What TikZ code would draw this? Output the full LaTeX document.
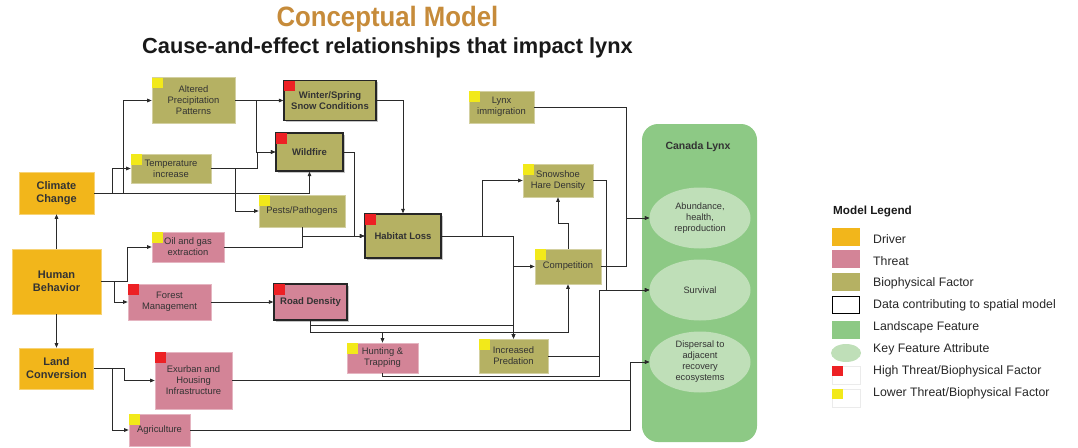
\documentclass[tikz,border=0pt]{standalone}
\usepackage{graphicx}
\usepackage{fontspec}
\setmainfont{Liberation Sans}
\usetikzlibrary{arrows.meta,shadows,shapes.geometric}
\definecolor{driver}{HTML}{F2B61B}
\definecolor{threat}{HTML}{D38497}
\definecolor{bio}{HTML}{B5B163}
\definecolor{land}{HTML}{8DC985}
\definecolor{keyattr}{HTML}{BFDFB8}
\definecolor{hiflag}{HTML}{ED2024}
\definecolor{loflag}{HTML}{F2E91A}
\definecolor{titlegold}{HTML}{C68B3A}
\definecolor{txt}{HTML}{333333}
\definecolor{wirec}{HTML}{2A2A2A}
\tikzset{
 base/.style={rectangle, inner sep=1pt, align=center, text=txt, font=\fontsize{9.4}{11}\selectfont},
 drv/.style={base, fill=driver, draw=driver!60!white, line width=0.6pt, font=\bfseries\fontsize{11}{13}\selectfont},
 thr/.style={base, fill=threat, draw=threat!60!white, line width=0.6pt},
 bph/.style={base, fill=bio, draw=bio!60!white, line width=0.6pt},
 spatial/.style={draw=black!85, line width=1.3pt, font=\bfseries\fontsize{9.5}{11}\selectfont, drop shadow={shadow xshift=1.8pt, shadow yshift=-1.8pt, fill=black!45}},
 attr/.style={ellipse, fill=keyattr, minimum width=101pt, minimum height=61pt, inner sep=0pt, align=center, text=txt, font=\fontsize{9.25}{11}\selectfont},
 wire/.style={draw=wirec, line width=0.75pt},
 arr/.style={wire, -{Triangle[length=4.5pt,width=3.6pt]}},
 leg/.style={anchor=west, text=black!85, font=\fontsize{12.3}{14}\selectfont},
 swatch/.style={minimum width=28pt, minimum height=18pt, inner sep=0pt},
}
\newcommand{\flagat}[3]{\fill[#2] ([shift={(#3,#3)}]#1.north west) rectangle ++(10.5,10.5);}
\begin{document}
\begin{tikzpicture}[x=1pt,y=-1pt]
\useasboundingbox (0,0) rectangle (1078,447);
% titles
\node[font=\bfseries\fontsize{28}{32}\selectfont, text=titlegold, anchor=base, inner sep=0pt] (title) at (387.5,27) {\scalebox{0.92}[1]{Conceptual Model}};
\node[font=\bfseries\fontsize{21.8}{24}\selectfont, text=black!90, anchor=base, inner sep=0pt] (subtitle) at (387.5,53) {Cause-and-effect relationships that impact lynx};

% Canada Lynx landscape feature
\node[fill=land, rounded corners=16pt, minimum width=115pt, minimum height=318pt, inner sep=0pt] (lynx) at (699.5,283) {};
\node[font=\bfseries\fontsize{10.5}{12}\selectfont, text=txt] (lynxlbl) at (698,147) {Canada Lynx};
\node[attr] (ab) at (700,218) {Abundance,\\health,\\reproduction};
\node[attr] (sv) at (700,290) {Survival};
\node[attr] (dp) at (700,362) {Dispersal to\\adjacent\\recovery\\ecosystems};

% drivers
\node[drv, minimum width=75pt, minimum height=42pt] (cc) at (56.5,193) {Climate\\Change};
\node[drv, minimum width=89pt, minimum height=65pt] (hb) at (56.5,281.5) {Human\\Behavior};
\node[drv, minimum width=74pt, minimum height=41pt] (lc) at (56.5,368.5) {Land\\Conversion};

% biophysical factors
\node[bph, minimum width=83pt, minimum height=46pt] (ap) at (193.5,100.5) {Altered\\Precipitation\\Patterns};
\node[bph, minimum width=80pt, minimum height=29pt] (ti) at (171,168.5) {Temperature\\increase};
\node[bph, spatial, minimum width=92pt, minimum height=40pt] (ws) at (330,100.5) {Winter/Spring\\Snow Conditions};
\node[bph, spatial, minimum width=67pt, minimum height=38pt] (wf) at (309.5,152) {Wildfire};
\node[bph, minimum width=86pt, minimum height=32pt] (pp) at (302,211) {Pests/Pathogens};
\node[bph, spatial, minimum width=76pt, minimum height=44pt] (hl) at (403,236) {Habitat Loss};
\node[bph, minimum width=65pt, minimum height=32pt] (li) at (501.5,107) {Lynx\\immigration};
\node[bph, minimum width=70pt, minimum height=33pt] (sh) at (558,180.5) {Snowshoe\\Hare Density};
\node[bph, minimum width=66pt, minimum height=35pt] (co) at (568,266.5) {Competition};
\node[bph, minimum width=69pt, minimum height=34pt] (ip) at (513.5,356) {Increased\\Predation};

% threats
\node[thr, minimum width=72pt, minimum height=30pt] (oil) at (188,247) {Oil and gas\\extraction};
\node[thr, minimum width=83pt, minimum height=36pt] (fm) at (169.5,302) {Forest\\Management};
\node[thr, spatial, minimum width=73pt, minimum height=36pt] (rd) at (310.5,302) {Road Density};
\node[thr, minimum width=77pt, minimum height=57pt] (ex) at (193.5,380.5) {Exurban and\\Housing\\Infrastructure};
\node[thr, minimum width=61pt, minimum height=32pt] (ag) at (159.5,430) {Agriculture};
\node[thr, minimum width=71pt, minimum height=30pt] (ht) at (382.5,358) {Hunting \&\\Trapping};

% flags
\flagat{ap}{loflag}{0.4}
\flagat{ti}{loflag}{0.4}
\flagat{ws}{hiflag}{0.8}
\flagat{wf}{hiflag}{0.8}
\flagat{pp}{loflag}{0.4}
\flagat{hl}{hiflag}{0.8}
\flagat{li}{loflag}{0.4}
\flagat{sh}{loflag}{0.4}
\flagat{co}{loflag}{0.4}
\flagat{ip}{loflag}{0.4}
\flagat{oil}{loflag}{0.4}
\flagat{fm}{hiflag}{0.4}
\flagat{rd}{hiflag}{0.8}
\flagat{ex}{hiflag}{0.4}
\flagat{ag}{loflag}{0.4}
\flagat{ht}{loflag}{0.4}

% connectors
\draw[arr] (hb.north) -- (cc.south);
\draw[arr] (hb.south) -- (lc.north);
\draw[arr] (cc.east) -- (123,193) |- (ap.west);
\draw[arr] (cc.east) -- (112,193) |- (ti.west);
\draw[arr] (cc.east) -| (wf.south);
\draw[arr] (ap.east) -- (ws.west);
\draw[arr] (ap.east) -- (256,100.5) |- (wf.west);
\draw[arr] (ti.east) -- (257,168.5) |- (wf.west);
\draw[arr] (ti.east) -- (235,168.5) |- (pp.west);
\draw[arr] (wf.east) -- (354,152) |- (hl.west);
\draw[arr] (pp.south) |- (hl.west);
\draw[arr] (oil.east) -- (302,247) |- (hl.west);
\draw[arr] (ws.east) -| (hl.north);
\draw[arr] (hl.east) -- (482,236) |- (sh.west);
\draw[arr] (hl.east) -- (513.5,236) |- (co.west);
\draw[arr] (hl.east) -| (ip.north);
\draw[arr] (rd.south) -- (310.5,325) -| (ip.north);
\draw[arr] (rd.south) -- (310.5,332) -| (ht.north);
\draw[arr] (rd.south) -- (310.5,332) -| (co.south);
\draw[arr] (co.north) -- (568,223) -| (sh.south);
\draw[arr] (sh.east) -- (606,180.5) |- (sv.west);
\draw[arr] (ip.east) -- (599,356) |- (sv.west);
\draw[arr] (ht.south) -- (382.5,376) -- (599,376) |- (sv.west);
\draw[arr] (co.east) -- (626,266.5) |- (ab.west);
\draw[arr] (li.east) -- (626,107) |- (ab.west);
\draw[arr] (ex.east) -- (630,380.5) |- (dp.west);
\draw[arr] (ag.east) -- (630,430) |- (dp.west);
\draw[arr] (hb.east) -- (127,281.5) |- (oil.west);
\draw[arr] (hb.east) -- (114,281.5) |- (fm.west);
\draw[arr] (fm.east) -- (rd.west);
\draw[arr] (lc.east) -- (124,368.5) |- (ex.west);
\draw[arr] (lc.east) -- (112,368.5) |- (ag.west);

% legend
\node[anchor=west, font=\bfseries\fontsize{11.7}{13}\selectfont, text=black!90, inner sep=0pt] (legtitle) at (833,211) {Model Legend};
\node[swatch, fill=driver] (sw1) at (846,236.5) {};
\node[swatch, fill=threat] (sw2) at (846,259) {};
\node[swatch, fill=bio] (sw3) at (846,282) {};
\node[swatch, fill=white, draw=black, line width=1.3pt, minimum width=27pt, minimum height=17pt] (sw4) at (846,305) {};
\node[swatch, fill=land] (sw5) at (846,329.5) {};
\node[ellipse, fill=keyattr, minimum width=30pt, minimum height=18pt, inner sep=0pt] (sw6) at (846,353) {};
\node[swatch, fill=white, draw=black!8, line width=0.6pt] (sw7) at (846,375) {};
\fill[hiflag] (832,366) rectangle (843,376);
\node[swatch, fill=white, draw=black!8, line width=0.6pt] (sw8) at (846,398) {};
\fill[loflag] (832,389) rectangle (843,399);
\node[leg, inner sep=0pt] (l1) at (873,239) {Driver};
\node[leg, inner sep=0pt] (l2) at (873,261) {Threat};
\node[leg, inner sep=0pt] (l3) at (873,283) {Biophysical Factor};
\node[leg, inner sep=0pt] (l4) at (873,305) {Data contributing to spatial model};
\node[leg, inner sep=0pt] (l5) at (873,327) {Landscape Feature};
\node[leg, inner sep=0pt] (l6) at (873,349) {Key Feature Attribute};
\node[leg, inner sep=0pt] (l7) at (873,371) {High Threat/Biophysical Factor};
\node[leg, inner sep=0pt] (l8) at (873,393) {Lower Threat/Biophysical Factor};
\end{tikzpicture}
\end{document}
